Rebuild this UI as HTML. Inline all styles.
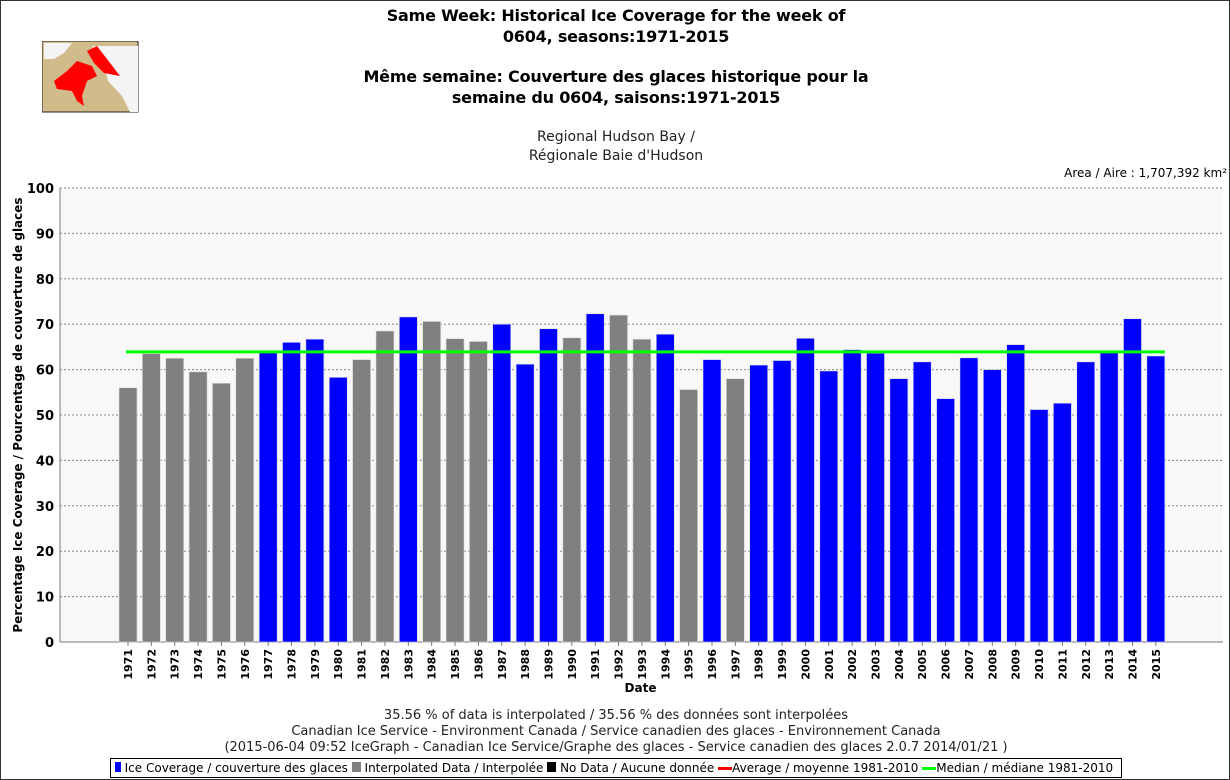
<!DOCTYPE html>
<html><head><meta charset="utf-8"><style>
body{margin:0;background:#fff;font-family:"Liberation Sans","DejaVu Sans",sans-serif}
#wrap{position:relative;width:1228px;height:778px;border:1px solid #333;overflow:hidden}
.t{position:absolute;left:0;width:1230px;text-align:center;color:#000}
</style></head><body>
<div id="wrap">
<div class="t" style="top:4px;font:bold 16px 'DejaVu Sans',sans-serif;letter-spacing:-0.2px;line-height:21px">Same Week: Historical Ice Coverage for the week of<br>0604, seasons:1971-2015</div>
<div class="t" style="top:65px;font:bold 16px 'DejaVu Sans',sans-serif;letter-spacing:-0.2px;line-height:21px">Même semaine: Couverture des glaces historique pour la<br>semaine du 0604, saisons:1971-2015</div>
<div class="t" style="top:127px;font:14px 'DejaVu Sans',sans-serif;line-height:19px;color:#222">Regional Hudson Bay /<br>Régionale Baie d'Hudson</div>
<div style="position:absolute;right:2px;top:165px;font:12px 'DejaVu Sans',sans-serif">Area / Aire : 1,707,392 km²</div>
<svg style="position:absolute;left:41px;top:40px" width="97" height="72">
<rect x="0" y="0" width="96" height="71" fill="#d2bb8b" stroke="#222"/>
<polygon points="50,5 96,5 96,71 88,71 80,55 66,40 62,25" fill="#f4f4f4"/>
<polygon points="2,2 30,2 22,12 12,18 2,18" fill="#f4f4f4"/>
<polygon points="45,10 55,5 78,35 62,32 52,22" fill="#f00"/>
<polygon points="12,40 25,30 35,20 50,25 55,35 45,40 40,55 42,65 35,60 30,50 15,48" fill="#f00"/>
</svg>
<svg id="chart" width="1230" height="780" style="position:absolute;left:-1px;top:-1px" font-family="'DejaVu Sans',sans-serif"></svg>
<div class="t" style="top:707px;font:13px 'DejaVu Sans',sans-serif;line-height:16px;color:#222">35.56 % of data is interpolated / 35.56 % des données sont interpolées<br>Canadian Ice Service - Environment Canada / Service canadien des glaces - Environnement Canada<br>(2015-06-04 09:52 IceGraph - Canadian Ice Service/Graphe des glaces - Service canadien des glaces 2.0.7 2014/01/21 )</div>
<div style="position:absolute;left:109px;top:757px;width:1010px;height:18px;border:1px solid #000;font:12px 'DejaVu Sans',sans-serif;line-height:18px;white-space:nowrap;overflow:hidden">
<span>&nbsp;<b style="display:inline-block;width:6px;height:10px;background:#00f"></b> Ice Coverage / couverture des glaces</span>
<span><b style="display:inline-block;width:9px;height:10px;background:#808080"></b> Interpolated Data / Interpolée</span>
<span><b style="display:inline-block;width:9px;height:10px;background:#000"></b> No Data / Aucune donnée</span>
<span><b style="display:inline-block;width:14px;height:3px;background:#f00;vertical-align:middle"></b>Average / moyenne 1981-2010</span>
<span><b style="display:inline-block;width:14px;height:3px;background:#0f0;vertical-align:middle"></b>Median / médiane 1981-2010</span>
</div>
</div>
<script>
const years=[1971,1972,1973,1974,1975,1976,1977,1978,1979,1980,1981,1982,1983,1984,1985,1986,1987,1988,1989,1990,1991,1992,1993,1994,1995,1996,1997,1998,1999,2000,2001,2002,2003,2004,2005,2006,2007,2008,2009,2010,2011,2012,2013,2014,2015];
const values=[56,63.5,62.5,59.5,57,62.5,64,66,66.7,58.3,62.2,68.5,71.6,70.6,66.8,66.2,70,61.2,69,67,72.3,72,66.7,67.8,55.6,62.2,58,61,62,66.9,59.7,64.4,63.6,58,61.7,53.6,62.6,60,65.5,51.2,52.6,61.7,63.8,71.2,63];
const interpolated=[1971,1972,1973,1974,1975,1976,1981,1982,1984,1985,1986,1990,1992,1993,1995,1997];
const median=[63.9];
const yTicks=[0,10,20,30,40,50,60,70,80,90,100];
const NS="http://www.w3.org/2000/svg",svg=document.getElementById('chart');
const L=60,R=1223,T=188,B=642;
const y=v=>B-(v/100)*(B-T);
const x=i=>128+i*23.36;
function mk(t,a,p){const e=document.createElementNS(NS,t);for(const k in a)e.setAttribute(k,a[k]);(p||svg).appendChild(e);return e;}
let r=mk('rect',{x:L,y:T,width:R-L,height:B-T,fill:'#f8f8f8'});


yTicks.forEach(v=>{
 let g=mk('line',{x1:L,x2:R,y1:y(v),y2:y(v),stroke:'#888','stroke-dasharray':'2,2','stroke-width':1});
 
 
 let t=mk('text',{x:L-6,y:y(v)+5,'text-anchor':'end','font-size':13,'font-weight':'bold'});t.textContent=v;
 
 
});
let ax=mk('line',{x1:L,x2:L,y1:T,y2:B,stroke:'#777'});


let ax2=mk('line',{x1:L,x2:R,y1:B,y2:B,stroke:'#777'});


years.forEach((yr,i)=>{
 const gray=interpolated.includes(yr);
 let b=mk('rect',{x:x(i)-9,y:y(values[i]),width:18,height:B-y(values[i]),fill:gray?'#808080':'#0000ff',stroke:'#ddd','stroke-width':0.6});
 
 
 let tk=mk('line',{x1:x(i),x2:x(i),y1:B,y2:B+4,stroke:'#777'});
 
 
 let t=mk('text',{transform:`translate(${x(i)+4},${B+7}) rotate(-90)`,'text-anchor':'end','font-size':11,'font-weight':'bold'});t.textContent=yr;
 
 
});
let m=mk('line',{x1:x(0)-2,x2:x(years.length-1)+9,y1:y(median[0]),y2:y(median[0]),stroke:'#00ff00','stroke-width':3});


let xt=mk('text',{x:(L+R)/2-1,y:692,'text-anchor':'middle','font-size':12,'font-weight':'bold'});xt.textContent='Date';


let yt=mk('text',{transform:`translate(22,${(T+B)/2}) rotate(-90)`,'text-anchor':'middle','font-size':12,'font-weight':'bold'});yt.textContent='Percentage Ice Coverage / Pourcentage de couverture de glaces';


</script>
</body></html>
